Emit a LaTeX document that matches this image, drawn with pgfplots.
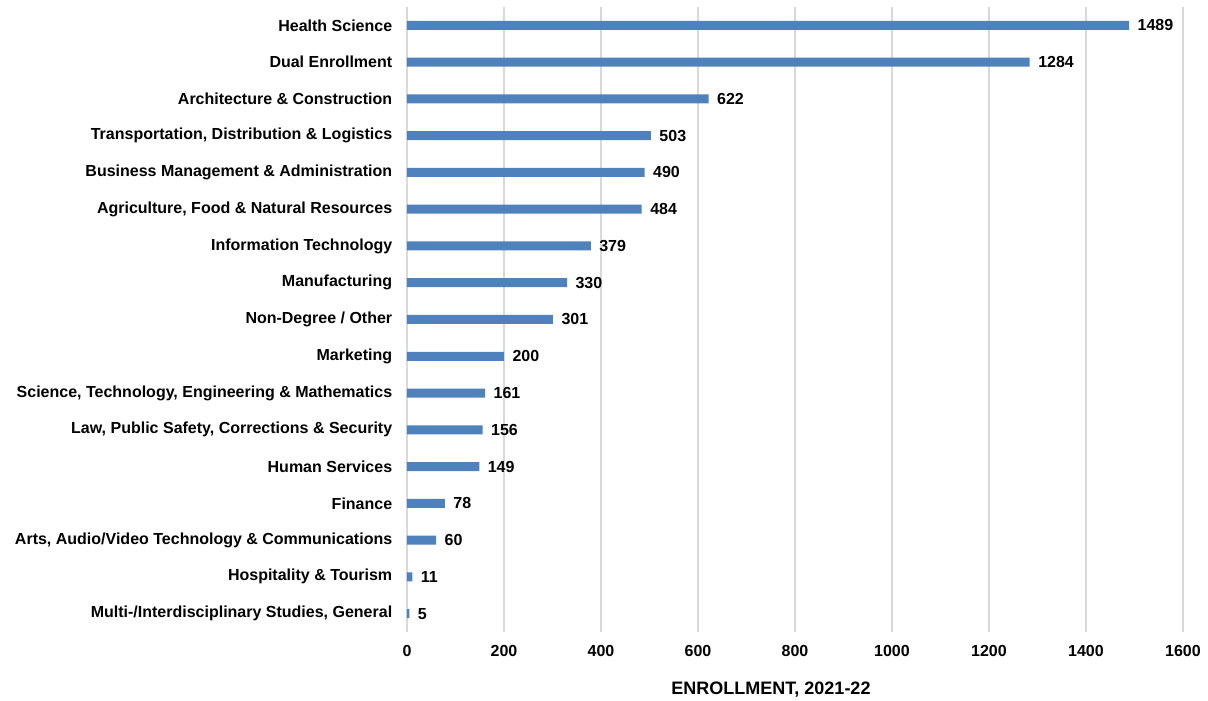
\documentclass[border=0pt]{standalone}
\usepackage{fontspec}
\setmainfont{Liberation Sans}
\usepackage{pgfplots}
\pgfplotsset{compat=1.18}
\definecolor{barblue}{HTML}{4F81BD}
\definecolor{gridgray}{HTML}{D9D9D9}
\begin{document}
\begin{tikzpicture}
\begin{axis}[name=ax,
  scale only axis, width=776pt, height=625pt,
  xmin=0, xmax=1600, ymin=-0.5, ymax=16.5,
  xbar, bar width=9pt,
  axis line style={draw=none},
  xtick={0,200,...,1600}, ytick={0,...,16},
  yticklabels={{Multi-/Interdisciplinary Studies, General},
    {Hospitality \& Tourism},
    {Arts, Audio/Video Technology \& Communications},
    {Finance},
    {Human Services},
    {Law, Public Safety, Corrections \& Security},
    {Science, Technology, Engineering \& Mathematics},
    {Marketing},
    {Non-Degree / Other},
    {Manufacturing},
    {Information Technology},
    {Agriculture, Food \& Natural Resources},
    {Business Management \& Administration},
    {Transportation, Distribution \& Logistics},
    {Architecture \& Construction},
    {Dual Enrollment},
    {Health Science}},
  xmajorgrids, major grid style={gridgray, line width=1.5pt},
  tick style={draw=none},
  ticklabel style={font=\fontsize{16}{18}\selectfont\bfseries},
  /pgf/number format/assume math mode=true,
  /pgf/number format/1000 sep={},
  xticklabel style={yshift=-10pt},
  yticklabel style={xshift=-7pt},
  xlabel={ENROLLMENT, 2021-22},
  xlabel style={font=\fontsize{18}{20}\selectfont\bfseries, xshift=-24pt, yshift=-18pt},
  nodes near coords,
  point meta=x,
  nodes near coords style={font=\fontsize{16}{18}\selectfont\bfseries, anchor=west, xshift=5pt},
]
\addplot[fill=barblue, draw=none] coordinates {
  (5,0) (11,1) (60,2) (78,3) (149,4) (156,5) (161,6) (200,7) (301,8)
  (330,9) (379,10) (484,11) (490,12) (503,13) (622,14) (1284,15) (1489,16)
};
\end{axis}
\pgfresetboundingbox
\path ([xshift=-407pt,yshift=-69pt]ax.south west) rectangle ([xshift=25pt,yshift=7pt]ax.north east);
\end{tikzpicture}
\end{document}
